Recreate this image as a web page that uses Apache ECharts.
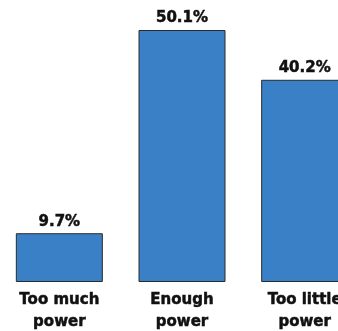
<!DOCTYPE html>
<html>
<head>
<meta charset="utf-8">
<script src="https://cdn.jsdelivr.net/npm/echarts@6/dist/echarts.min.js"></script>
<style>
  html, body { margin: 0; padding: 0; background: #fff; overflow: hidden; width: 338px; height: 331px; }
  /* the plot runs past the right edge, so the last bar is cropped */
  #chart { position: absolute; left: -2px; top: 0; width: 368px; height: 331px; }
</style>
</head>
<body>
<div id="chart"></div>
<script>
// Survey answers and their shares (percent)
const categories = ['Too much\npower', 'Enough\npower', 'Too little\npower'];
const shares = [9.7, 50.1, 40.2];

const font = 'DejaVu Sans, Liberation Sans, Arial, sans-serif';
// heavy black text: bold face plus a hairline outline in the same colour
const textStyle = {
  color: '#111',
  fontFamily: font,
  fontWeight: 'bold',
  fontSize: 15,
  textBorderColor: '#111',
  textBorderWidth: 0.5
};

const chart = echarts.init(document.getElementById('chart'));
chart.setOption({
  animation: false,
  grid: { left: 0, right: 0, top: 30, bottom: 49, outerBoundsMode: 'none', containLabel: false },
  xAxis: {
    type: 'category',
    data: categories,
    axisLine: { show: false },
    axisTick: { show: false },
    axisLabel: Object.assign({ margin: 7, lineHeight: 22 }, textStyle)
  },
  yAxis: {
    type: 'value',
    min: 0,
    max: 50.1,
    show: false,
    splitLine: { show: false }
  },
  series: [{
    type: 'bar',
    data: shares,
    barWidth: 87,
    itemStyle: { color: '#3a80c6', borderColor: '#2b2b2b', borderWidth: 1 },
    label: Object.assign({
      show: true,
      position: 'top',
      distance: 4,
      formatter: p => p.value.toFixed(1) + '%'
    }, textStyle)
  }]
});
</script>
</body>
</html>
